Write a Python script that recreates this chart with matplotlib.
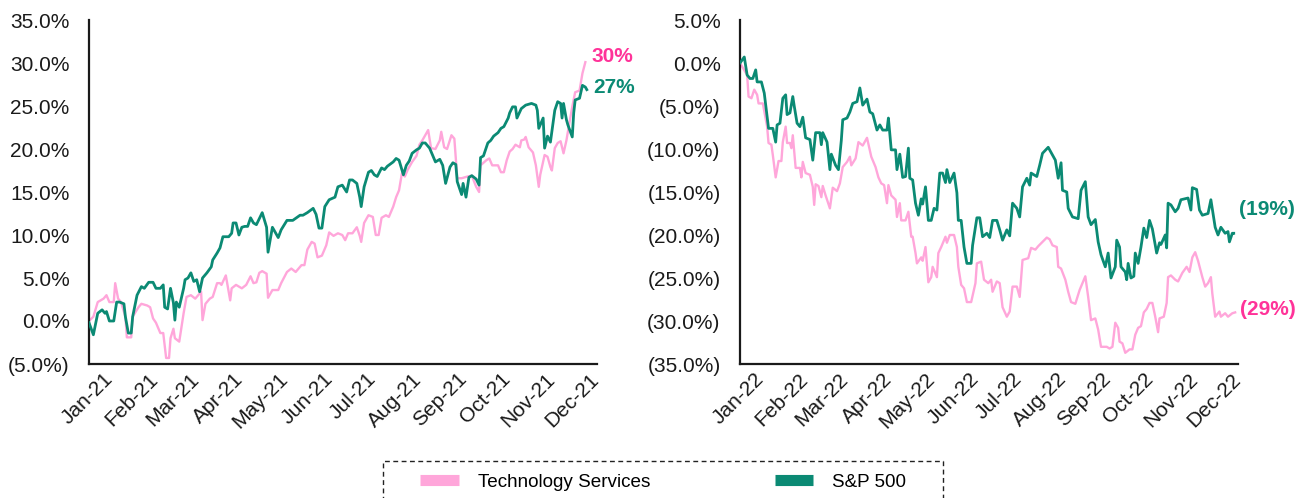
import matplotlib
matplotlib.use('Agg')
import matplotlib.pyplot as plt
import matplotlib.transforms as mtrans
from matplotlib.lines import Line2D
from matplotlib.patches import Rectangle
from matplotlib.ticker import FuncFormatter
import pandas as pd

plt.rcParams['font.family'] = ['Liberation Sans', 'DejaVu Sans']

# ---------------- data (cumulative return, %, day offset from Jan 1) ----------------
series_names = ['Technology Services', 'S&P 500']
month_labels_2021 = ['Jan-21', 'Feb-21', 'Mar-21', 'Apr-21', 'May-21', 'Jun-21',
                     'Jul-21', 'Aug-21', 'Sep-21', 'Oct-21', 'Nov-21', 'Dec-21']
month_labels_2022 = ['Jan-22', 'Feb-22', 'Mar-22', 'Apr-22', 'May-22', 'Jun-22',
                     'Jul-22', 'Aug-22', 'Sep-22', 'Oct-22', 'Nov-22', 'Dec-22']

tech21_days = [0, 3, 6, 10, 12, 14, 17, 18, 20, 22,
               25, 26, 29, 30, 34, 36, 40, 42, 44, 46,
               49, 51, 53, 55, 56, 58, 59, 62, 65, 67,
               70, 73, 75, 77, 78, 80, 83, 85, 88, 90,
               91, 94, 97, 98, 101, 105, 108, 111, 113, 115,
               117, 119, 122, 123, 126, 130, 132, 136, 139, 142,
               146, 148, 150, 153, 155, 157, 160, 163, 165, 168,
               171, 174, 176, 178, 181, 184, 186, 187, 189, 192,
               195, 197, 199, 201, 204, 206, 209, 211, 213, 215,
               217, 219, 222, 225, 227, 229, 233, 235, 238, 241,
               242, 244, 246, 249, 251, 253, 256, 260, 263, 266,
               268, 269, 273, 275, 277, 281, 283, 285, 287, 289,
               291, 293, 296, 297, 299, 300, 302, 305, 307, 309,
               310, 313, 315, 317, 318, 320, 322, 324, 326, 328,
               330, 332, 334, 337, 339, 341]
tech21_vals = [0.0, 0.5, 2.2, 2.6, 3.0, 2.2, 2.2, 4.4, 2.6, 2.2,
               0.5, -1.9, -1.9, 0.5, 1.6, 2.0, 1.8, 1.6, 0.3, -0.2,
               -1.4, -1.4, -4.3, -4.3, -2.0, -0.9, -2.0, -2.4, 0.9, 2.8,
               3.0, 2.6, 3.0, 3.4, 0.1, 2.0, 2.6, 2.8, 4.4, 4.4,
               4.2, 5.3, 2.4, 3.8, 4.2, 3.8, 4.2, 5.2, 4.4, 4.5,
               5.6, 5.8, 5.5, 2.7, 3.6, 3.6, 4.4, 5.7, 6.1, 5.7,
               6.5, 6.5, 8.3, 9.2, 9.0, 7.4, 7.6, 8.8, 10.3, 9.9,
               10.2, 10.0, 9.4, 10.2, 10.2, 10.9, 9.9, 9.2, 11.4, 12.3,
               12.1, 10.0, 10.0, 12.0, 12.3, 12.1, 13.3, 14.4, 15.2, 17.2,
               16.8, 17.6, 18.5, 19.2, 20.5, 21.0, 22.2, 20.1, 20.0, 21.0,
               22.0, 20.2, 20.0, 21.6, 21.2, 16.6, 16.6, 16.8, 16.9, 15.6,
               15.0, 18.1, 18.7, 18.9, 18.1, 18.1, 17.3, 17.3, 18.7, 19.7,
               20.0, 20.5, 20.2, 21.0, 21.1, 21.4, 20.2, 19.6, 18.1, 15.6,
               17.0, 19.3, 19.1, 17.9, 17.5, 20.1, 20.7, 20.9, 19.5, 21.0,
               23.0, 24.9, 26.6, 26.8, 28.8, 30.1]

spx21_days = [0, 3, 6, 9, 11, 12, 14, 17, 19, 21,
              24, 25, 27, 29, 30, 33, 36, 38, 41, 44,
              46, 49, 51, 52, 54, 56, 58, 59, 60, 62,
              65, 66, 68, 70, 72, 74, 76, 78, 81, 84,
              85, 88, 90, 92, 96, 98, 99, 101, 103, 105,
              107, 109, 111, 113, 115, 119, 122, 123, 126, 130,
              132, 136, 140, 145, 147, 150, 154, 156, 158, 160,
              162, 165, 169, 171, 174, 177, 179, 181, 184, 186,
              187, 189, 192, 194, 196, 198, 201, 203, 205, 209,
              211, 213, 216, 218, 220, 222, 225, 227, 229, 231,
              234, 236, 238, 241, 243, 245, 248, 250, 252, 253,
              256, 257, 259, 261, 263, 266, 268, 269, 271, 274,
              276, 278, 281, 283, 285, 288, 289, 291, 293, 294,
              297, 300, 304, 307, 308, 309, 312, 313, 315, 317,
              320, 322, 324, 325, 326, 328, 329, 332, 333, 334,
              337, 339, 341, 342]
spx21_vals = [-0.2, -1.6, 0.9, 1.3, 0.9, 1.1, 0.0, 0.0, 2.2, 2.2,
              2.0, 0.5, -1.4, -1.4, 0.5, 3.0, 4.0, 3.8, 4.5, 4.5,
              3.8, 3.8, 4.2, 1.6, 1.4, 3.8, 2.1, 0.1, 2.2, 1.6,
              3.8, 4.8, 5.0, 5.6, 4.6, 4.8, 3.4, 5.0, 5.6, 6.3,
              7.1, 7.9, 8.5, 9.8, 9.8, 10.2, 11.4, 11.4, 10.0, 10.9,
              11.0, 11.0, 12.0, 11.4, 11.2, 12.6, 10.9, 8.0, 10.9, 9.7,
              10.6, 11.7, 11.7, 12.3, 12.3, 12.6, 13.1, 12.4, 10.8, 10.8,
              13.3, 14.1, 14.4, 15.6, 15.8, 15.0, 16.4, 16.4, 16.0, 14.4,
              13.3, 15.6, 17.3, 17.5, 17.0, 16.8, 17.8, 17.6, 18.0, 18.5,
              18.9, 18.7, 17.0, 18.1, 18.6, 19.5, 19.9, 20.1, 20.7, 20.7,
              20.1, 19.3, 18.5, 18.8, 18.1, 16.0, 17.9, 18.4, 18.2, 16.2,
              14.7, 16.0, 14.4, 16.7, 16.9, 16.5, 15.8, 19.0, 19.2, 20.7,
              21.0, 21.5, 21.9, 22.4, 22.6, 23.6, 24.2, 24.9, 24.9, 23.6,
              24.7, 25.1, 25.3, 25.1, 24.5, 22.4, 23.6, 20.1, 21.5, 20.8,
              24.5, 25.5, 25.3, 23.6, 25.3, 23.4, 22.8, 21.4, 24.2, 25.7,
              25.9, 27.4, 27.2, 26.9]

tech22_days = [0, 5, 6, 8, 10, 12, 13, 16, 19, 20,
               22, 23, 25, 27, 29, 30, 32, 33, 35, 36,
               37, 39, 42, 43, 44, 46, 49, 51, 52, 53,
               55, 57, 58, 60, 63, 65, 68, 70, 72, 75,
               77, 78, 81, 83, 86, 89, 92, 95, 97, 99,
               101, 103, 104, 106, 109, 110, 112, 113, 116, 118,
               120, 121, 123, 124, 127, 128, 130, 132, 134, 135,
               138, 139, 141, 144, 145, 147, 150, 152, 153, 155,
               157, 159, 162, 165, 166, 169, 171, 174, 176, 177,
               180, 182, 184, 187, 189, 191, 194, 196, 198, 202,
               204, 207, 209, 212, 215, 217, 219, 222, 223, 225,
               228, 230, 232, 235, 238, 240, 242, 244, 246, 249,
               251, 253, 257, 259, 261, 263, 265, 266, 268, 270,
               273, 275, 277, 279, 281, 283, 285, 287, 289, 291,
               293, 294, 297, 299, 300, 302, 305, 307, 310, 313,
               315, 317, 319, 321, 324, 326, 328, 330, 331, 333,
               336, 337, 340, 342, 345, 347]
tech22_vals = [0.0, -1.4, -3.9, -4.1, -3.1, -3.7, -4.7, -4.7, -7.4, -9.3,
               -9.5, -10.7, -13.3, -11.4, -11.4, -9.2, -7.4, -9.3, -9.3, -9.9,
               -8.4, -12.2, -12.2, -13.3, -11.5, -12.8, -13.0, -14.4, -16.5, -14.1,
               -14.3, -15.6, -14.3, -15.4, -16.9, -14.5, -14.9, -14.0, -12.1, -11.5,
               -10.9, -11.9, -11.1, -9.2, -9.6, -8.7, -10.9, -12.1, -13.3, -14.0,
               -14.2, -16.3, -14.2, -15.4, -15.9, -17.9, -16.3, -18.3, -18.3, -17.3,
               -20.2, -20.2, -22.1, -23.3, -22.6, -23.0, -21.4, -25.5, -24.9, -23.7,
               -24.9, -22.1, -21.4, -20.2, -20.9, -20.0, -20.0, -21.4, -23.7, -25.8,
               -26.2, -27.8, -27.8, -25.6, -23.3, -23.1, -25.2, -25.6, -25.2, -26.6,
               -25.4, -25.6, -28.4, -29.5, -28.9, -26.0, -26.0, -27.2, -22.9, -22.7,
               -21.5, -21.7, -21.3, -20.8, -20.3, -20.5, -21.2, -21.4, -23.7, -23.9,
               -25.2, -26.6, -27.8, -28.0, -26.4, -25.6, -24.8, -27.2, -29.9, -29.7,
               -31.0, -33.0, -33.0, -33.2, -33.0, -30.2, -30.8, -32.4, -32.6, -33.7,
               -33.3, -33.3, -31.6, -30.8, -30.6, -29.0, -28.6, -27.9, -27.9, -29.5,
               -31.3, -29.7, -29.5, -27.9, -24.9, -24.7, -25.2, -25.4, -24.4, -23.7,
               -24.3, -22.6, -22.0, -23.0, -24.9, -26.0, -25.6, -24.9, -26.8, -29.5,
               -28.9, -29.5, -29.1, -29.5, -29.1, -29.0]

spx22_days = [0, 3, 5, 7, 9, 11, 12, 15, 17, 20,
              23, 25, 26, 28, 30, 32, 33, 35, 37, 38,
              40, 42, 44, 46, 49, 51, 53, 56, 57, 58,
              61, 63, 64, 67, 69, 71, 72, 75, 77, 79,
              82, 84, 86, 89, 91, 93, 96, 98, 100, 103,
              104, 106, 109, 110, 112, 114, 116, 118, 119, 121,
              123, 125, 127, 128, 130, 132, 134, 136, 138, 140,
              142, 144, 145, 147, 150, 152, 153, 155, 157, 159,
              162, 163, 166, 168, 170, 173, 175, 177, 180, 182,
              184, 187, 189, 191, 194, 196, 198, 201, 203, 204,
              208, 210, 212, 216, 218, 221, 223, 225, 226, 229,
              230, 233, 237, 239, 242, 244, 246, 249, 251, 253,
              256, 258, 260, 263, 264, 266, 267, 270, 271, 272,
              274, 276, 277, 279, 281, 283, 285, 287, 289, 292,
              294, 295, 298, 299, 300, 302, 305, 307, 309, 314,
              316, 317, 320, 322, 324, 328, 330, 333, 335, 337,
              340, 342, 343, 345, 346]
spx22_vals = [0.0, 0.7, -1.4, -1.8, -1.8, -0.8, -2.2, -2.2, -3.5, -7.6,
              -7.6, -9.2, -7.2, -7.0, -4.1, -3.7, -6.0, -5.8, -3.9, -5.0,
              -7.0, -7.4, -6.3, -8.7, -8.9, -11.3, -8.1, -8.1, -9.5, -8.1,
              -9.2, -12.4, -10.6, -11.9, -12.4, -9.0, -6.6, -6.4, -5.7, -4.7,
              -4.5, -2.9, -4.9, -4.2, -5.7, -5.9, -7.8, -7.2, -7.8, -7.8,
              -6.4, -10.1, -10.1, -12.4, -10.6, -13.3, -13.2, -9.9, -13.4, -13.6,
              -16.3, -17.7, -15.8, -16.4, -14.4, -18.3, -18.3, -16.9, -17.1, -12.8,
              -12.8, -13.9, -12.4, -13.9, -12.8, -15.1, -18.3, -18.3, -21.4, -23.3,
              -23.3, -21.2, -18.0, -18.0, -20.2, -19.8, -20.3, -18.3, -18.3, -19.4,
              -20.6, -19.4, -20.1, -16.3, -16.9, -17.9, -14.4, -13.4, -14.2, -12.8,
              -13.2, -11.9, -10.5, -9.8, -10.4, -11.3, -13.4, -11.6, -14.8, -15.0,
              -16.9, -17.9, -18.1, -14.8, -13.8, -17.9, -18.8, -18.2, -20.8, -22.3,
              -23.7, -22.1, -25.0, -23.7, -20.6, -21.4, -23.7, -24.3, -25.2, -23.3,
              -25.0, -24.8, -22.1, -23.3, -21.4, -19.2, -20.3, -18.3, -19.3, -22.1,
              -20.9, -21.1, -20.0, -21.5, -16.3, -16.5, -17.3, -16.9, -15.9, -15.7,
              -17.1, -14.5, -14.7, -17.1, -17.7, -17.5, -15.9, -19.1, -20.0, -19.1,
              -19.8, -19.6, -20.8, -19.8, -19.8]

end_labels_2021 = ['30%', '27%']
end_labels_2022 = ['(29%)', '(19%)']

# ---------------- style ----------------
PINK = '#FFA6DA'
TEAL = '#0B8A74'
PINK_TXT = '#FF3399'
TEAL_TXT = '#0B8A74'
W, H = 1296, 498


def to_dates(year, days):
    return pd.Timestamp(f'{year}-01-01') + pd.to_timedelta(days, unit='D')


def pct_fmt(v, _pos=None):
    if v < -1e-9:
        return f'({-v:.1f}%)'
    return f'{abs(v):.1f}%'


fig = plt.figure(figsize=(W / 100, H / 100), dpi=100)


def axrect(x0, x1, y0, y1):
    return [x0 / W, 1 - y1 / H, (x1 - x0) / W, (y1 - y0) / H]


ax1 = fig.add_axes(axrect(89, 597, 20, 364))
ax2 = fig.add_axes(axrect(740, 1238, 20, 364))

panels = [
    (ax1, 2021, tech21_days, tech21_vals, spx21_days, spx21_vals, (-5, 35),
     month_labels_2021, end_labels_2021, [(6, 6), (6, 2)]),
    (ax2, 2022, tech22_days, tech22_vals, spx22_days, spx22_vals, (-35, 5),
     month_labels_2022, end_labels_2022, [(5, 3), (5, 24)]),
]

for (ax, year, td, tv, sd, sv, ylim, mlabels, elabels, offs) in panels:
    tdates = to_dates(year, td)
    sdates = to_dates(year, sd)
    ax.plot(tdates, tv, color=PINK, lw=1.7, zorder=2)
    ax.plot(sdates, sv, color=TEAL, lw=2.0, zorder=3)

    start = pd.Timestamp(f'{year}-01-01')
    ax.set_xlim(start, start + pd.Timedelta(days=349))
    ax.set_ylim(*ylim)
    ax.set_yticks(range(ylim[0], ylim[1] + 1, 5))
    ax.yaxis.set_major_formatter(FuncFormatter(pct_fmt))

    ticks = [pd.Timestamp(f'{year}-{m:02d}-01') for m in range(1, 13)]
    ax.set_xticks(ticks)
    ax.set_xticklabels(mlabels)

    for s in ['top', 'right']:
        ax.spines[s].set_visible(False)
    for s in ['left', 'bottom']:
        ax.spines[s].set_linewidth(1.6)
        ax.spines[s].set_color('#1a1a1a')
    ax.tick_params(axis='both', length=0, labelsize=15, colors='#1a1a1a')
    ax.tick_params(axis='y', pad=14)
    ax.tick_params(axis='x', pad=4)

    shift = mtrans.ScaledTranslation(14 / 100, 0, fig.dpi_scale_trans)
    for lbl in ax.get_xticklabels():
        lbl.set_rotation(45)
        lbl.set_ha('right')
        lbl.set_va('top')
        lbl.set_rotation_mode('anchor')
        lbl.set_transform(lbl.get_transform() + shift)

    # end-of-line value labels
    ax.annotate(elabels[0], xy=(tdates[-1], tv[-1]), xytext=offs[0],
                textcoords='offset pixels', ha='left', va='center',
                fontsize=15, fontweight='bold', color=PINK_TXT,
                annotation_clip=False)
    ax.annotate(elabels[1], xy=(sdates[-1], sv[-1]), xytext=offs[1],
                textcoords='offset pixels', ha='left', va='center',
                fontsize=15, fontweight='bold', color=TEAL_TXT,
                annotation_clip=False)

# ---------------- legend ----------------
fig.patches.append(Rectangle((383 / W, -0.06), (943 - 383) / W, 1 - 461 / H + 0.06,
                             transform=fig.transFigure, fill=False,
                             edgecolor='#222222', linewidth=1.0,
                             linestyle=(0, (3.5, 2.5))))
handles = [Line2D([0], [0], color=PINK, lw=8, solid_capstyle='butt'),
           Line2D([0], [0], color=TEAL, lw=8, solid_capstyle='butt')]
fig.legend(handles, series_names, loc='center left',
           bbox_to_anchor=(420 / W, 1 - 482 / H), ncol=2, frameon=False,
           fontsize=13.6, handlelength=2.05, handletextpad=1.0,
           columnspacing=6.6, borderpad=0, borderaxespad=0)

fig.savefig('out.png', dpi=100)
